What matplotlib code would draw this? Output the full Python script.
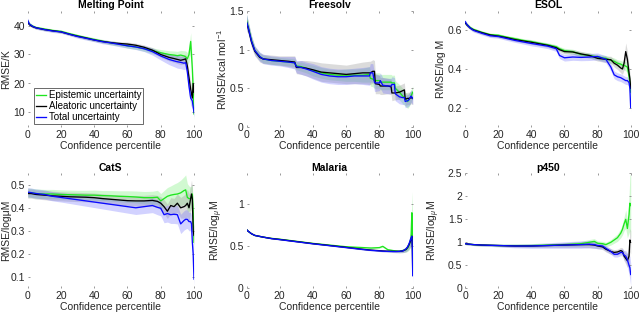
import matplotlib
matplotlib.use("Agg")
import matplotlib.pyplot as plt
import numpy as np

plt.rcParams['font.family'] = ['Liberation Sans', 'DejaVu Sans']
plt.rcParams['mathtext.fontset'] = 'custom'
plt.rcParams['mathtext.rm'] = 'Liberation Sans'
plt.rcParams['mathtext.it'] = 'Liberation Sans:italic'

# ---------------- data ----------------
titles = ["Melting Point", "Freesolv", "ESOL", "CatS", "Malaria", "p450"]
ylabels = ["RMSE/K", r"RMSE/kcal mol$^{-1}$", "RMSE/log M",
           "RMSE/logμM", r"RMSE/log$_{\mu}$M", r"RMSE/log$_{\mu}$M"]
ylims = [(5, 45), (0, 1.5), (0.1, 0.7), (0.05, 0.55), (0, 1.37), (0, 2.5)]
yticks = [[10, 20, 30, 40], [0, 0.5, 1, 1.5], [0.2, 0.4, 0.6],
          [0.1, 0.2, 0.3, 0.4, 0.5], [0, 0.5, 1], [0, 0.5, 1, 1.5, 2, 2.5]]
ytick_labels = [["10", "20", "30", "40"], ["0", "0.5", "1", "1.5"], ["0.2", "0.4", "0.6"],
                ["0.1", "0.2", "0.3", "0.4", "0.5"], ["0", "0.5", "1"],
                ["0", "0.5", "1", "1.5", "2", "2.5"]]
xticks = [0, 20, 40, 60, 80, 100]
series_names = ["Epistemic uncertainty", "Aleatoric uncertainty", "Total uncertainty"]

# Melting point
mp_x = [0, 1, 3, 5, 10, 15, 20, 25, 30, 35, 40, 45, 50, 55, 60, 65, 70, 75, 80, 85, 88, 90, 92, 94, 95, 96, 97, 98, 99, 99.5, 100]
mp_epi = [41.5, 40.5, 39.8, 39.3, 38.8, 38.3, 38.0, 37.2, 36.5, 35.8, 35.2, 34.6, 34.0, 33.6, 33.0, 32.6, 32.0, 31.3, 30.6, 30.0, 29.8, 29.6, 29.8, 29.5, 29.2, 28.5, 30.0, 34.5, 25.0, 18.0, 9.5]
mp_ale = [41.3, 40.3, 39.6, 39.2, 38.6, 38.2, 37.8, 37.0, 36.3, 35.7, 35.0, 34.5, 34.1, 33.8, 33.6, 33.2, 32.5, 31.5, 30.0, 29.0, 28.6, 28.3, 28.0, 28.3, 28.5, 26.0, 22.0, 18.0, 15.0, 20.0, 17.0]
mp_tot = [41.8, 40.5, 39.7, 39.2, 38.6, 38.1, 37.8, 37.0, 36.2, 35.6, 35.0, 34.4, 34.0, 33.5, 33.0, 32.6, 32.0, 31.0, 29.5, 28.3, 27.8, 27.5, 27.3, 27.0, 27.2, 24.0, 19.0, 15.0, 14.0, 12.0, 10.0]
mp_epi_bw = [0.8, 0.6, 0.5, 0.5, 0.5, 0.5, 0.5, 0.5, 0.5, 0.6, 0.6, 0.6, 0.7, 0.7, 0.8, 0.8, 0.9, 1.0, 1.1, 1.3, 1.4, 1.5, 1.6, 1.8, 2.0, 2.2, 2.5, 3.0, 3.0, 3.0, 2.0]
mp_ale_bw = [0.6, 0.5, 0.4, 0.4, 0.4, 0.4, 0.4, 0.4, 0.4, 0.5, 0.5, 0.5, 0.6, 0.6, 0.7, 0.7, 0.8, 0.9, 1.0, 1.2, 1.3, 1.4, 1.5, 1.6, 1.7, 2.0, 2.2, 2.5, 2.5, 2.5, 2.0]
mp_tot_bw = [0.8, 0.6, 0.5, 0.5, 0.5, 0.5, 0.5, 0.5, 0.6, 0.6, 0.6, 0.7, 0.7, 0.8, 0.8, 0.9, 1.0, 1.2, 1.4, 1.8, 2.0, 2.2, 2.2, 2.2, 2.2, 2.5, 2.5, 2.5, 2.5, 2.0, 1.5]

# Freesolv (closely spaced x values give the step changes)
fs_x = [0, 1, 3, 5, 8, 10, 15, 20, 25, 29, 30, 33, 36, 40, 45, 50, 55, 60, 65, 70, 74, 74.5, 76, 77, 77.5, 80, 80.5, 82, 85, 87, 87.5, 89, 89.5, 92, 94, 95, 95.5, 97, 98, 99, 100]
fs_epi = [1.38, 1.30, 1.12, 0.99, 0.91, 0.88, 0.86, 0.85, 0.84, 0.83, 0.79, 0.78, 0.76, 0.73, 0.70, 0.68, 0.67, 0.67, 0.67, 0.67, 0.68, 0.63, 0.62, 0.60, 0.60, 0.60, 0.58, 0.58, 0.58, 0.58, 0.57, 0.57, 0.50, 0.45, 0.40, 0.38, 0.36, 0.33, 0.36, 0.40, 0.45]
fs_ale = [1.35, 1.28, 1.10, 0.98, 0.90, 0.88, 0.87, 0.86, 0.85, 0.84, 0.77, 0.77, 0.76, 0.74, 0.71, 0.70, 0.69, 0.68, 0.69, 0.70, 0.70, 0.70, 0.72, 0.72, 0.56, 0.55, 0.53, 0.53, 0.53, 0.52, 0.44, 0.44, 0.44, 0.45, 0.47, 0.48, 0.36, 0.37, 0.37, 0.38, 0.37]
fs_tot = [1.36, 1.29, 1.11, 0.99, 0.91, 0.88, 0.86, 0.85, 0.84, 0.83, 0.78, 0.77, 0.75, 0.72, 0.68, 0.66, 0.65, 0.65, 0.66, 0.66, 0.66, 0.70, 0.70, 0.58, 0.57, 0.57, 0.60, 0.54, 0.53, 0.53, 0.55, 0.55, 0.43, 0.39, 0.38, 0.38, 0.33, 0.34, 0.36, 0.40, 0.37]
fs_epi_bw = [0.08, 0.07, 0.06, 0.05, 0.05, 0.05, 0.05, 0.05, 0.05, 0.05, 0.05, 0.06, 0.06, 0.07, 0.07, 0.07, 0.07, 0.08, 0.08, 0.09, 0.10, 0.10, 0.10, 0.10, 0.10, 0.10, 0.10, 0.10, 0.10, 0.10, 0.10, 0.10, 0.10, 0.10, 0.10, 0.10, 0.09, 0.09, 0.09, 0.08, 0.08]
fs_ale_bw = [0.10, 0.08, 0.07, 0.06, 0.06, 0.06, 0.06, 0.06, 0.07, 0.08, 0.08, 0.09, 0.10, 0.11, 0.12, 0.12, 0.12, 0.12, 0.13, 0.14, 0.15, 0.15, 0.15, 0.14, 0.13, 0.12, 0.11, 0.11, 0.10, 0.10, 0.10, 0.09, 0.09, 0.09, 0.09, 0.09, 0.08, 0.08, 0.08, 0.08, 0.08]
fs_tot_bw = [0.10, 0.08, 0.07, 0.06, 0.06, 0.06, 0.06, 0.06, 0.07, 0.08, 0.08, 0.09, 0.09, 0.10, 0.10, 0.10, 0.10, 0.10, 0.10, 0.11, 0.12, 0.12, 0.12, 0.12, 0.11, 0.10, 0.10, 0.10, 0.10, 0.10, 0.10, 0.09, 0.09, 0.09, 0.09, 0.09, 0.08, 0.08, 0.08, 0.08, 0.08]

# ESOL
es_x = [0, 1, 3, 5, 10, 15, 20, 25, 30, 35, 40, 45, 50, 55, 57, 60, 65, 70, 75, 80, 85, 88, 90, 92, 94, 95, 96, 97, 98, 99, 99.5, 100]
es_epi = [0.640, 0.630, 0.615, 0.605, 0.590, 0.578, 0.575, 0.565, 0.557, 0.548, 0.542, 0.533, 0.525, 0.515, 0.505, 0.495, 0.490, 0.475, 0.470, 0.462, 0.455, 0.445, 0.440, 0.430, 0.425, 0.420, 0.418, 0.415, 0.410, 0.360, 0.330, 0.280]
es_ale = [0.638, 0.628, 0.612, 0.602, 0.588, 0.576, 0.570, 0.562, 0.552, 0.545, 0.538, 0.530, 0.522, 0.510, 0.500, 0.490, 0.488, 0.478, 0.470, 0.455, 0.450, 0.448, 0.430, 0.420, 0.405, 0.400, 0.430, 0.490, 0.450, 0.380, 0.350, 0.300]
es_tot = [0.645, 0.630, 0.612, 0.600, 0.585, 0.572, 0.568, 0.558, 0.548, 0.540, 0.532, 0.525, 0.518, 0.505, 0.470, 0.458, 0.462, 0.460, 0.462, 0.465, 0.450, 0.410, 0.370, 0.360, 0.355, 0.350, 0.345, 0.340, 0.340, 0.330, 0.300, 0.200]
es_epi_bw = [0.010, 0.010, 0.008, 0.008, 0.008, 0.008, 0.008, 0.008, 0.009, 0.009, 0.010, 0.010, 0.010, 0.011, 0.011, 0.012, 0.012, 0.013, 0.013, 0.014, 0.015, 0.016, 0.017, 0.018, 0.019, 0.020, 0.022, 0.025, 0.025, 0.030, 0.030, 0.030]
es_ale_bw = [0.010, 0.010, 0.008, 0.008, 0.008, 0.008, 0.008, 0.008, 0.009, 0.009, 0.010, 0.010, 0.010, 0.011, 0.011, 0.012, 0.012, 0.013, 0.013, 0.014, 0.016, 0.018, 0.020, 0.022, 0.025, 0.028, 0.035, 0.045, 0.040, 0.035, 0.030, 0.030]
es_tot_bw = [0.010, 0.010, 0.009, 0.009, 0.009, 0.009, 0.009, 0.010, 0.010, 0.011, 0.012, 0.012, 0.013, 0.014, 0.016, 0.017, 0.017, 0.017, 0.018, 0.018, 0.018, 0.020, 0.020, 0.020, 0.020, 0.020, 0.020, 0.020, 0.020, 0.020, 0.020, 0.020]

# CatS
cs_x = [0, 2, 5, 10, 15, 20, 25, 30, 35, 40, 45, 50, 55, 60, 65, 70, 75, 78, 80, 82, 84, 86, 88, 90, 92, 94, 95, 96, 97, 98, 98.5, 99, 99.5, 100]
cs_epi = [0.465, 0.465, 0.462, 0.460, 0.460, 0.458, 0.457, 0.456, 0.455, 0.455, 0.453, 0.452, 0.450, 0.449, 0.447, 0.444, 0.444, 0.446, 0.430, 0.440, 0.450, 0.455, 0.458, 0.460, 0.465, 0.475, 0.478, 0.445, 0.440, 0.440, 0.450, 0.460, 0.380, 0.250]
cs_ale = [0.462, 0.462, 0.458, 0.455, 0.452, 0.450, 0.448, 0.447, 0.446, 0.444, 0.440, 0.437, 0.434, 0.431, 0.430, 0.430, 0.432, 0.428, 0.420, 0.405, 0.385, 0.410, 0.405, 0.420, 0.400, 0.405, 0.410, 0.420, 0.400, 0.440, 0.460, 0.440, 0.300, 0.280]
cs_tot = [0.468, 0.466, 0.462, 0.458, 0.450, 0.445, 0.440, 0.435, 0.430, 0.425, 0.420, 0.415, 0.410, 0.405, 0.400, 0.405, 0.410, 0.402, 0.398, 0.370, 0.375, 0.370, 0.372, 0.370, 0.330, 0.345, 0.350, 0.350, 0.340, 0.340, 0.330, 0.250, 0.200, 0.090]
cs_epi_bw = [0.020, 0.020, 0.020, 0.020, 0.020, 0.020, 0.020, 0.020, 0.021, 0.022, 0.022, 0.023, 0.024, 0.025, 0.026, 0.027, 0.028, 0.030, 0.032, 0.035, 0.038, 0.040, 0.045, 0.050, 0.055, 0.060, 0.065, 0.060, 0.055, 0.050, 0.045, 0.040, 0.040, 0.040]
cs_ale_bw = [0.020, 0.020, 0.020, 0.020, 0.020, 0.020, 0.020, 0.020, 0.020, 0.020, 0.021, 0.021, 0.022, 0.022, 0.023, 0.024, 0.025, 0.026, 0.028, 0.030, 0.032, 0.034, 0.036, 0.040, 0.045, 0.050, 0.055, 0.060, 0.060, 0.060, 0.060, 0.050, 0.040, 0.040]
cs_tot_bw = [0.020, 0.020, 0.020, 0.020, 0.020, 0.020, 0.021, 0.022, 0.023, 0.024, 0.025, 0.026, 0.027, 0.028, 0.029, 0.030, 0.031, 0.032, 0.033, 0.035, 0.037, 0.038, 0.040, 0.040, 0.042, 0.042, 0.042, 0.040, 0.040, 0.040, 0.040, 0.040, 0.035, 0.030]

# Malaria
ma_x = [0, 1, 3, 5, 10, 15, 20, 30, 40, 50, 60, 70, 75, 80, 82, 85, 88, 90, 92, 94, 95, 96, 97, 98, 99, 99.5, 99.8, 100]
ma_epi = [0.70, 0.68, 0.65, 0.63, 0.61, 0.595, 0.585, 0.560, 0.535, 0.515, 0.495, 0.485, 0.480, 0.485, 0.500, 0.460, 0.450, 0.445, 0.440, 0.450, 0.455, 0.460, 0.480, 0.520, 0.600, 0.900, 0.700, 0.300]
ma_ale = [0.70, 0.68, 0.65, 0.63, 0.61, 0.593, 0.582, 0.557, 0.532, 0.510, 0.488, 0.465, 0.455, 0.448, 0.445, 0.442, 0.440, 0.440, 0.440, 0.445, 0.455, 0.465, 0.490, 0.530, 0.580, 0.620, 0.500, 0.200]
ma_tot = [0.70, 0.68, 0.65, 0.63, 0.61, 0.592, 0.580, 0.555, 0.530, 0.508, 0.485, 0.462, 0.452, 0.445, 0.442, 0.440, 0.438, 0.438, 0.440, 0.445, 0.455, 0.470, 0.495, 0.540, 0.600, 0.620, 0.450, 0.150]
ma_epi_bw = [0.010, 0.008, 0.006, 0.005, 0.005, 0.005, 0.005, 0.005, 0.005, 0.005, 0.006, 0.006, 0.007, 0.008, 0.009, 0.010, 0.012, 0.014, 0.016, 0.020, 0.025, 0.030, 0.040, 0.060, 0.100, 0.250, 0.250, 0.150]
ma_ale_bw = [0.010, 0.008, 0.006, 0.005, 0.005, 0.005, 0.005, 0.005, 0.005, 0.005, 0.006, 0.006, 0.007, 0.008, 0.009, 0.010, 0.012, 0.014, 0.016, 0.020, 0.025, 0.030, 0.040, 0.060, 0.080, 0.120, 0.120, 0.100]
ma_tot_bw = [0.010, 0.008, 0.006, 0.005, 0.005, 0.005, 0.005, 0.005, 0.005, 0.005, 0.006, 0.006, 0.007, 0.008, 0.009, 0.010, 0.012, 0.014, 0.016, 0.020, 0.025, 0.030, 0.040, 0.060, 0.080, 0.120, 0.120, 0.100]

# p450
p4_x = [0, 2, 5, 10, 20, 30, 40, 50, 60, 70, 75, 78, 80, 83, 85, 88, 90, 92, 94, 95, 96, 97, 98, 99, 99.5, 100]
p4_epi = [0.97, 0.96, 0.95, 0.94, 0.93, 0.93, 0.93, 0.94, 0.95, 0.97, 1.00, 1.02, 0.98, 0.97, 0.95, 1.00, 1.05, 1.10, 1.20, 1.28, 1.40, 1.50, 1.30, 1.60, 1.85, 1.80]
p4_ale = [0.97, 0.96, 0.95, 0.94, 0.93, 0.92, 0.92, 0.93, 0.94, 0.95, 0.95, 0.94, 0.92, 0.90, 0.85, 0.80, 0.78, 0.79, 0.82, 0.80, 0.70, 0.65, 0.60, 0.70, 1.05, 1.00]
p4_tot = [0.97, 0.96, 0.95, 0.94, 0.93, 0.92, 0.92, 0.93, 0.94, 0.95, 0.96, 0.95, 0.93, 0.92, 0.87, 0.80, 0.74, 0.74, 0.78, 0.78, 0.72, 0.70, 0.62, 0.50, 0.45, 0.30]
p4_epi_bw = [0.02, 0.02, 0.02, 0.02, 0.02, 0.02, 0.03, 0.03, 0.04, 0.05, 0.06, 0.06, 0.05, 0.05, 0.05, 0.06, 0.07, 0.08, 0.10, 0.12, 0.15, 0.20, 0.20, 0.40, 0.60, 0.70]
p4_ale_bw = [0.02, 0.02, 0.02, 0.02, 0.02, 0.03, 0.03, 0.04, 0.05, 0.06, 0.07, 0.07, 0.06, 0.06, 0.06, 0.06, 0.06, 0.06, 0.07, 0.08, 0.10, 0.12, 0.15, 0.20, 0.25, 0.25]
p4_tot_bw = [0.02, 0.02, 0.02, 0.02, 0.03, 0.04, 0.05, 0.06, 0.07, 0.08, 0.08, 0.08, 0.07, 0.06, 0.06, 0.06, 0.06, 0.06, 0.07, 0.08, 0.10, 0.12, 0.15, 0.20, 0.25, 0.25]

panels = [
    (mp_x, [mp_epi, mp_ale, mp_tot], [mp_epi_bw, mp_ale_bw, mp_tot_bw]),
    (fs_x, [fs_epi, fs_ale, fs_tot], [fs_epi_bw, fs_ale_bw, fs_tot_bw]),
    (es_x, [es_epi, es_ale, es_tot], [es_epi_bw, es_ale_bw, es_tot_bw]),
    (cs_x, [cs_epi, cs_ale, cs_tot], [cs_epi_bw, cs_ale_bw, cs_tot_bw]),
    (ma_x, [ma_epi, ma_ale, ma_tot], [ma_epi_bw, ma_ale_bw, ma_tot_bw]),
    (p4_x, [p4_epi, p4_ale, p4_tot], [p4_epi_bw, p4_ale_bw, p4_tot_bw]),
]

line_colors = ['#1ee61e', '#000000', '#0a0aff']
band_colors = ['#7cf07c', '#9a9a9a', '#6a6aff']
band_alpha = [0.35, 0.35, 0.30]

# ---------------- layout ----------------
W, H = 640, 316
fig = plt.figure(figsize=(6.4, 3.16), dpi=100)
col_left = [27.7, 246.5, 465.2]
col_w = [166.3, 166.2, 165.5]
row_top = [11.0, 173.3]
row_h = [116.0, 115.0]
ylabel_x = [-0.098, -0.105, -0.116, -0.098, -0.129, -0.143]

fs_tick = 7.5
axes = []
for i in range(6):
    r, c = divmod(i, 3)
    left = col_left[c] / W
    bottom = 1 - (row_top[r] + row_h[r]) / H
    ax = fig.add_axes([left, bottom, col_w[c] / W, row_h[r] / H])
    axes.append(ax)
    x, ys, bws = panels[i]
    xa = np.array(x)
    for k in range(3):
        ya = np.array(ys[k])
        bw = np.array(bws[k])
        ax.fill_between(xa, ya - bw, ya + bw, color=band_colors[k], alpha=band_alpha[k],
                        linewidth=0)
    for k in range(3):
        ax.plot(xa, ys[k], color=line_colors[k], lw=0.95, label=series_names[k])
    ax.set_xlim(0, 100)
    ax.set_ylim(*ylims[i])
    ax.set_xticks(xticks)
    ax.set_xticklabels([str(t) for t in xticks])
    ax.set_yticks(yticks[i])
    ax.set_yticklabels(ytick_labels[i])
    for s in ax.spines.values():
        s.set_visible(False)
    ax.tick_params(direction='in', length=1.5, width=0.6, color='#888888',
                   top=True, right=True, labelsize=fs_tick, labelcolor='#262626', pad=2)
    ax.set_title(titles[i], fontsize=7.5, fontweight='bold', pad=2)
    ax.set_xlabel("Confidence percentile", fontsize=7.5, color='#262626', labelpad=1)
    ax.set_ylabel(ylabels[i], fontsize=7.5, color='#262626')
    ax.yaxis.set_label_coords(ylabel_x[i], 0.5)

leg = axes[0].legend(loc='lower left', fontsize=7, frameon=True, fancybox=False,
                     handlelength=1.0, handletextpad=0.3, borderpad=0.2,
                     labelspacing=0.1, borderaxespad=0.3, bbox_to_anchor=(0.02, 0.0))
leg.get_frame().set_edgecolor('#262626')
leg.get_frame().set_linewidth(0.6)

fig.savefig("out.png", dpi=100)
